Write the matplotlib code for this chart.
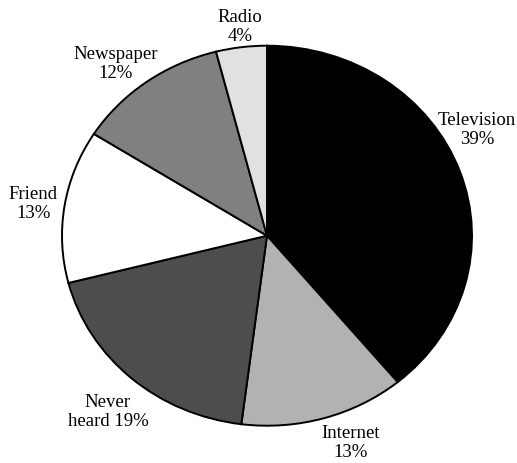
import matplotlib
matplotlib.use("Agg")
import matplotlib.pyplot as plt

# values
categories = ["Television", "Internet", "Never\nheard", "Friend", "Newspaper", "Radio"]
shares = [39, 13, 19, 13, 12, 4]
grays = ["#000000", "#b2b2b2", "#4d4d4d", "#ffffff", "#808080", "#e1e1e1"]

# label anchors (axes data units, pie radius = 1)
label_pos = [(1.024, 0.562), (0.410, -1.086), (-0.776, -0.923),
             (-1.141, 0.172), (-0.737, 0.909), (-0.132, 1.104)]

plt.rcParams["font.family"] = ["Liberation Serif", "DejaVu Serif"]

fig = plt.figure(figsize=[5.17, 4.64], dpi=100)
ax = fig.add_axes([0, 0, 1, 1])

ax.pie(
    shares,
    colors=grays,
    startangle=90,
    counterclock=False,
    wedgeprops=dict(edgecolor="black", linewidth=1.4),
)
ax.set_aspect("auto")
# slightly wider than tall, like the reference
ax.set_xlim(-267 / 205, 250 / 205)
ax.set_ylim(-227.3 / 190, 236.7 / 190)
ax.axis("off")

for name, val, (x, y) in zip(categories, shares, label_pos):
    if name.startswith("Never"):
        txt = "Never\nheard %d%%" % val
    else:
        txt = "%s\n%d%%" % (name, val)
    ax.text(x, y, txt, ha="center", va="center", fontsize=13.5,
            linespacing=1.1, multialignment="center")

fig.savefig("out.png", dpi=100)
